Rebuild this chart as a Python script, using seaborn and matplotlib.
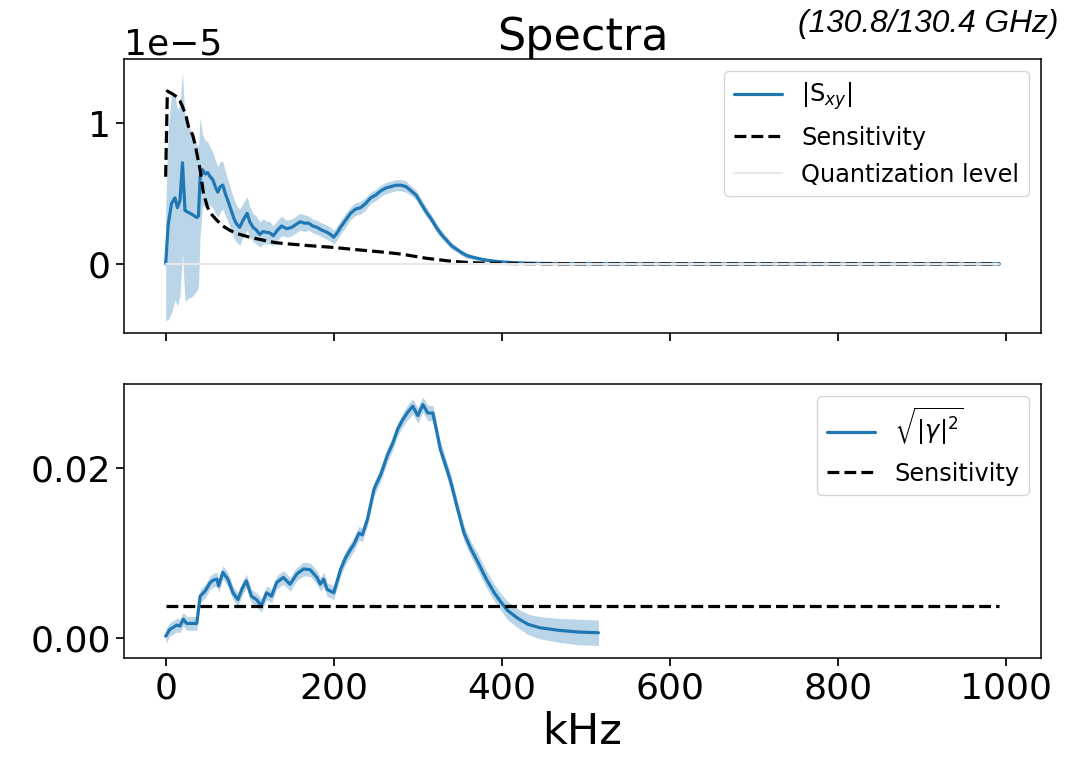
import numpy as np
import matplotlib
matplotlib.use('Agg')
import matplotlib.pyplot as plt
import seaborn as sns

# |S_xy| spectrum (units of 1e-5) with its uncertainty band
freq_s = [0, 3, 7, 11, 14, 17, 20, 23, 26, 29,
          32, 37, 39, 41, 44, 47, 50, 53, 56, 59,
          62, 65, 68, 71, 74, 78, 82, 85, 88, 92,
          97, 100, 104, 108, 112, 116, 120, 124, 128, 133,
          138, 144, 150, 155, 160, 165, 170, 175, 180, 186,
          192, 196, 200, 204, 208, 214, 220, 226, 232, 238,
          244, 250, 256, 262, 268, 274, 280, 286, 292, 298,
          304, 310, 316, 322, 328, 334, 340, 346, 352, 358,
          365, 372, 380, 390, 400, 415, 430, 450, 480, 520,
          600, 700, 800, 900, 992]
sxy = [0.00, 0.28, 0.43, 0.47, 0.40, 0.45, 0.72, 0.38, 0.37, 0.36,
       0.35, 0.33, 0.34, 0.62, 0.67, 0.64, 0.65, 0.62, 0.60, 0.55,
       0.51, 0.55, 0.56, 0.50, 0.45, 0.38, 0.31, 0.28, 0.26, 0.31,
       0.36, 0.30, 0.26, 0.24, 0.21, 0.23, 0.225, 0.22, 0.20, 0.24,
       0.27, 0.25, 0.26, 0.28, 0.30, 0.29, 0.29, 0.27, 0.26, 0.24,
       0.225, 0.21, 0.19, 0.22, 0.26, 0.31, 0.36, 0.39, 0.40, 0.43,
       0.47, 0.49, 0.52, 0.54, 0.55, 0.56, 0.56, 0.55, 0.52, 0.49,
       0.43, 0.37, 0.32, 0.26, 0.21, 0.17, 0.13, 0.105, 0.08, 0.06,
       0.048, 0.038, 0.028, 0.02, 0.014, 0.009, 0.005, 0.003, 0.0015, 0.0008,
       0.0, 0.0, 0.0, 0.0, 0.0]
sxy_err = [0.40, 0.68, 0.78, 0.73, 0.70, 0.68, 0.65, 0.65, 0.62, 0.60,
           0.58, 0.52, 0.50, 0.42, 0.25, 0.24, 0.22, 0.21, 0.20, 0.19,
           0.18, 0.18, 0.17, 0.16, 0.15, 0.14, 0.14, 0.13, 0.13, 0.12,
           0.12, 0.11, 0.10, 0.10, 0.09, 0.09, 0.08, 0.08, 0.07, 0.07,
           0.07, 0.06, 0.06, 0.06, 0.06, 0.06, 0.05, 0.05, 0.05, 0.05,
           0.05, 0.05, 0.05, 0.05, 0.05, 0.05, 0.045, 0.045, 0.045, 0.045,
           0.04, 0.04, 0.04, 0.04, 0.04, 0.04, 0.04, 0.04, 0.035, 0.035,
           0.035, 0.035, 0.03, 0.03, 0.03, 0.025, 0.025, 0.02, 0.02, 0.02,
           0.015, 0.015, 0.012, 0.01, 0.008, 0.006, 0.005, 0.004, 0.003, 0.003,
           0.003, 0.003, 0.003, 0.003, 0.003]

# sensitivity curve for |S_xy| (units of 1e-5)
freq_sens = [0, 2, 8, 13, 17, 20, 24, 27, 29, 32,
             35, 38, 41, 45, 50, 55, 61, 68, 76, 85,
             100, 115, 132, 150, 170, 200, 220, 240, 260, 280,
             295, 310, 320, 335, 350, 360, 380, 400, 450, 600,
             800, 992]
sens_top = [0.62, 1.23, 1.21, 1.19, 1.16, 1.12, 1.06, 0.98, 0.95, 0.92,
            0.85, 0.76, 0.67, 0.50, 0.40, 0.35, 0.31, 0.27, 0.24, 0.215,
            0.19, 0.17, 0.15, 0.14, 0.13, 0.117, 0.105, 0.094, 0.083, 0.07,
            0.055, 0.04, 0.033, 0.022, 0.014, 0.01, 0.005, 0.003, 0.001, 0.0,
            0.0, 0.0]

quant_x = [0, 992]
quant_y = [0.0, 0.0]

# coherence sqrt(|gamma|^2)
freq_g = [0, 5, 10, 13, 17, 21, 25, 30, 37, 41,
          47, 53, 57, 61, 63, 68, 74, 80, 86, 91,
          96, 102, 108, 114, 120, 126, 132, 140, 148, 156,
          164, 172, 180, 184, 188, 192, 200, 208, 214, 220,
          224, 230, 234, 240, 248, 256, 264, 270, 276, 282,
          288, 294, 300, 306, 312, 318, 327, 333, 339, 347,
          355, 363, 371, 381, 391, 399, 407, 419, 431, 445,
          467, 490, 515]
gamma = [0.0002, 0.0010, 0.0013, 0.0015, 0.0014, 0.0022, 0.0017, 0.0017, 0.0017, 0.0049,
         0.0055, 0.0065, 0.0068, 0.0069, 0.0061, 0.0077, 0.0069, 0.0053, 0.0045, 0.0058,
         0.0067, 0.0049, 0.0045, 0.0038, 0.0053, 0.0049, 0.0065, 0.0071, 0.0063, 0.0075,
         0.0081, 0.0080, 0.0071, 0.0063, 0.0069, 0.0057, 0.0053, 0.0080, 0.0094, 0.0104,
         0.0110, 0.0123, 0.0121, 0.0139, 0.0175, 0.0192, 0.0215, 0.0228, 0.0245, 0.0256,
         0.0265, 0.0272, 0.0261, 0.0274, 0.0264, 0.0264, 0.0221, 0.0203, 0.0184, 0.0153,
         0.0123, 0.0105, 0.0090, 0.0070, 0.0053, 0.0042, 0.0032, 0.0023, 0.0016, 0.0012,
         0.0009, 0.0007, 0.0006]
gamma_err = [0.0009, 0.0008, 0.0008, 0.0008, 0.0008, 0.0008, 0.0008, 0.0008, 0.0008, 0.0008,
             0.0008, 0.0008, 0.0008, 0.0008, 0.0008, 0.0008, 0.0008, 0.0008, 0.0008, 0.0008,
             0.0008, 0.0008, 0.0008, 0.0008, 0.0008, 0.0008, 0.0008, 0.0008, 0.0008, 0.0008,
             0.0008, 0.0008, 0.0008, 0.0008, 0.0008, 0.0008, 0.0008, 0.0008, 0.0008, 0.0008,
             0.0008, 0.0008, 0.0008, 0.0008, 0.0008, 0.0008, 0.0008, 0.0008, 0.0008, 0.0008,
             0.0009, 0.0009, 0.0009, 0.0009, 0.0009, 0.0009, 0.0009, 0.0009, 0.0009, 0.0009,
             0.0009, 0.0009, 0.0010, 0.0010, 0.0010, 0.0010, 0.0011, 0.0011, 0.0012, 0.0013,
             0.0014, 0.0015, 0.0015]

sens_bot_x = [0, 992]
sens_bot_y = [0.0037, 0.0037]

sns.set_theme(style='ticks', rc={
    'axes.edgecolor': 'black',
    'axes.linewidth': 1.1,
    'text.color': 'black',
    'axes.labelcolor': 'black',
    'xtick.color': 'black',
    'ytick.color': 'black',
    'xtick.major.size': 6,
    'ytick.major.size': 6,
    'xtick.labelsize': 26,
    'ytick.labelsize': 26,
})
plt.rcParams['font.family'] = ['DejaVu Sans']

blue = '#1f77b4'
leg_kw = dict(loc='upper right', fontsize=17.3, framealpha=0.8, labelspacing=0.55)

fig, (ax1, ax2) = plt.subplots(2, 1, sharex=True, figsize=(10.81, 7.6), dpi=100)
fig.subplots_adjust(left=0.1147, right=0.963, top=0.9224, bottom=0.1342, hspace=0.19)

# top panel
s_scale = 1e-5
sxy_a = np.array(sxy) * s_scale
sxy_e = np.array(sxy_err) * s_scale
ax1.fill_between(freq_s, sxy_a - sxy_e, sxy_a + sxy_e, color=blue, alpha=0.3, lw=0)
sns.lineplot(x=freq_s, y=sxy_a, ax=ax1, color=blue, lw=2.3, label=r'|S$_{xy}$|')
sns.lineplot(x=freq_sens, y=np.array(sens_top) * s_scale, ax=ax1, color='black',
             lw=2.3, linestyle='--', label='Sensitivity')
sns.lineplot(x=quant_x, y=quant_y, ax=ax1, color='#e8e8e8', lw=1.6, label='Quantization level')
ax1.set_title('Spectra', fontsize=32)
ax1.yaxis.get_offset_text().set_fontsize(26)
ax1.legend(**leg_kw)

# bottom panel
g_a = np.array(gamma)
g_e = np.array(gamma_err)
ax2.fill_between(freq_g, g_a - g_e, g_a + g_e, color=blue, alpha=0.3, lw=0)
sns.lineplot(x=freq_g, y=g_a, ax=ax2, color=blue, lw=2.3, label=r'$\sqrt{|\gamma|^2}$')
sns.lineplot(x=sens_bot_x, y=sens_bot_y, ax=ax2, color='black', lw=2.3, linestyle='--',
             label='Sensitivity')
ax2.legend(**leg_kw)
ax2.set_xlabel('kHz', fontsize=31)
ax2.set_xticks([0, 200, 400, 600, 800, 1000])
ax2.set_yticks([0.0, 0.02])

fig.text(0.979, 0.968, '(130.8/130.4 GHz)', ha='right', va='center', fontsize=22.8,
         style='italic', family=['Liberation Sans', 'DejaVu Sans'])

plt.savefig('out.png', dpi=100)
plt.close()
